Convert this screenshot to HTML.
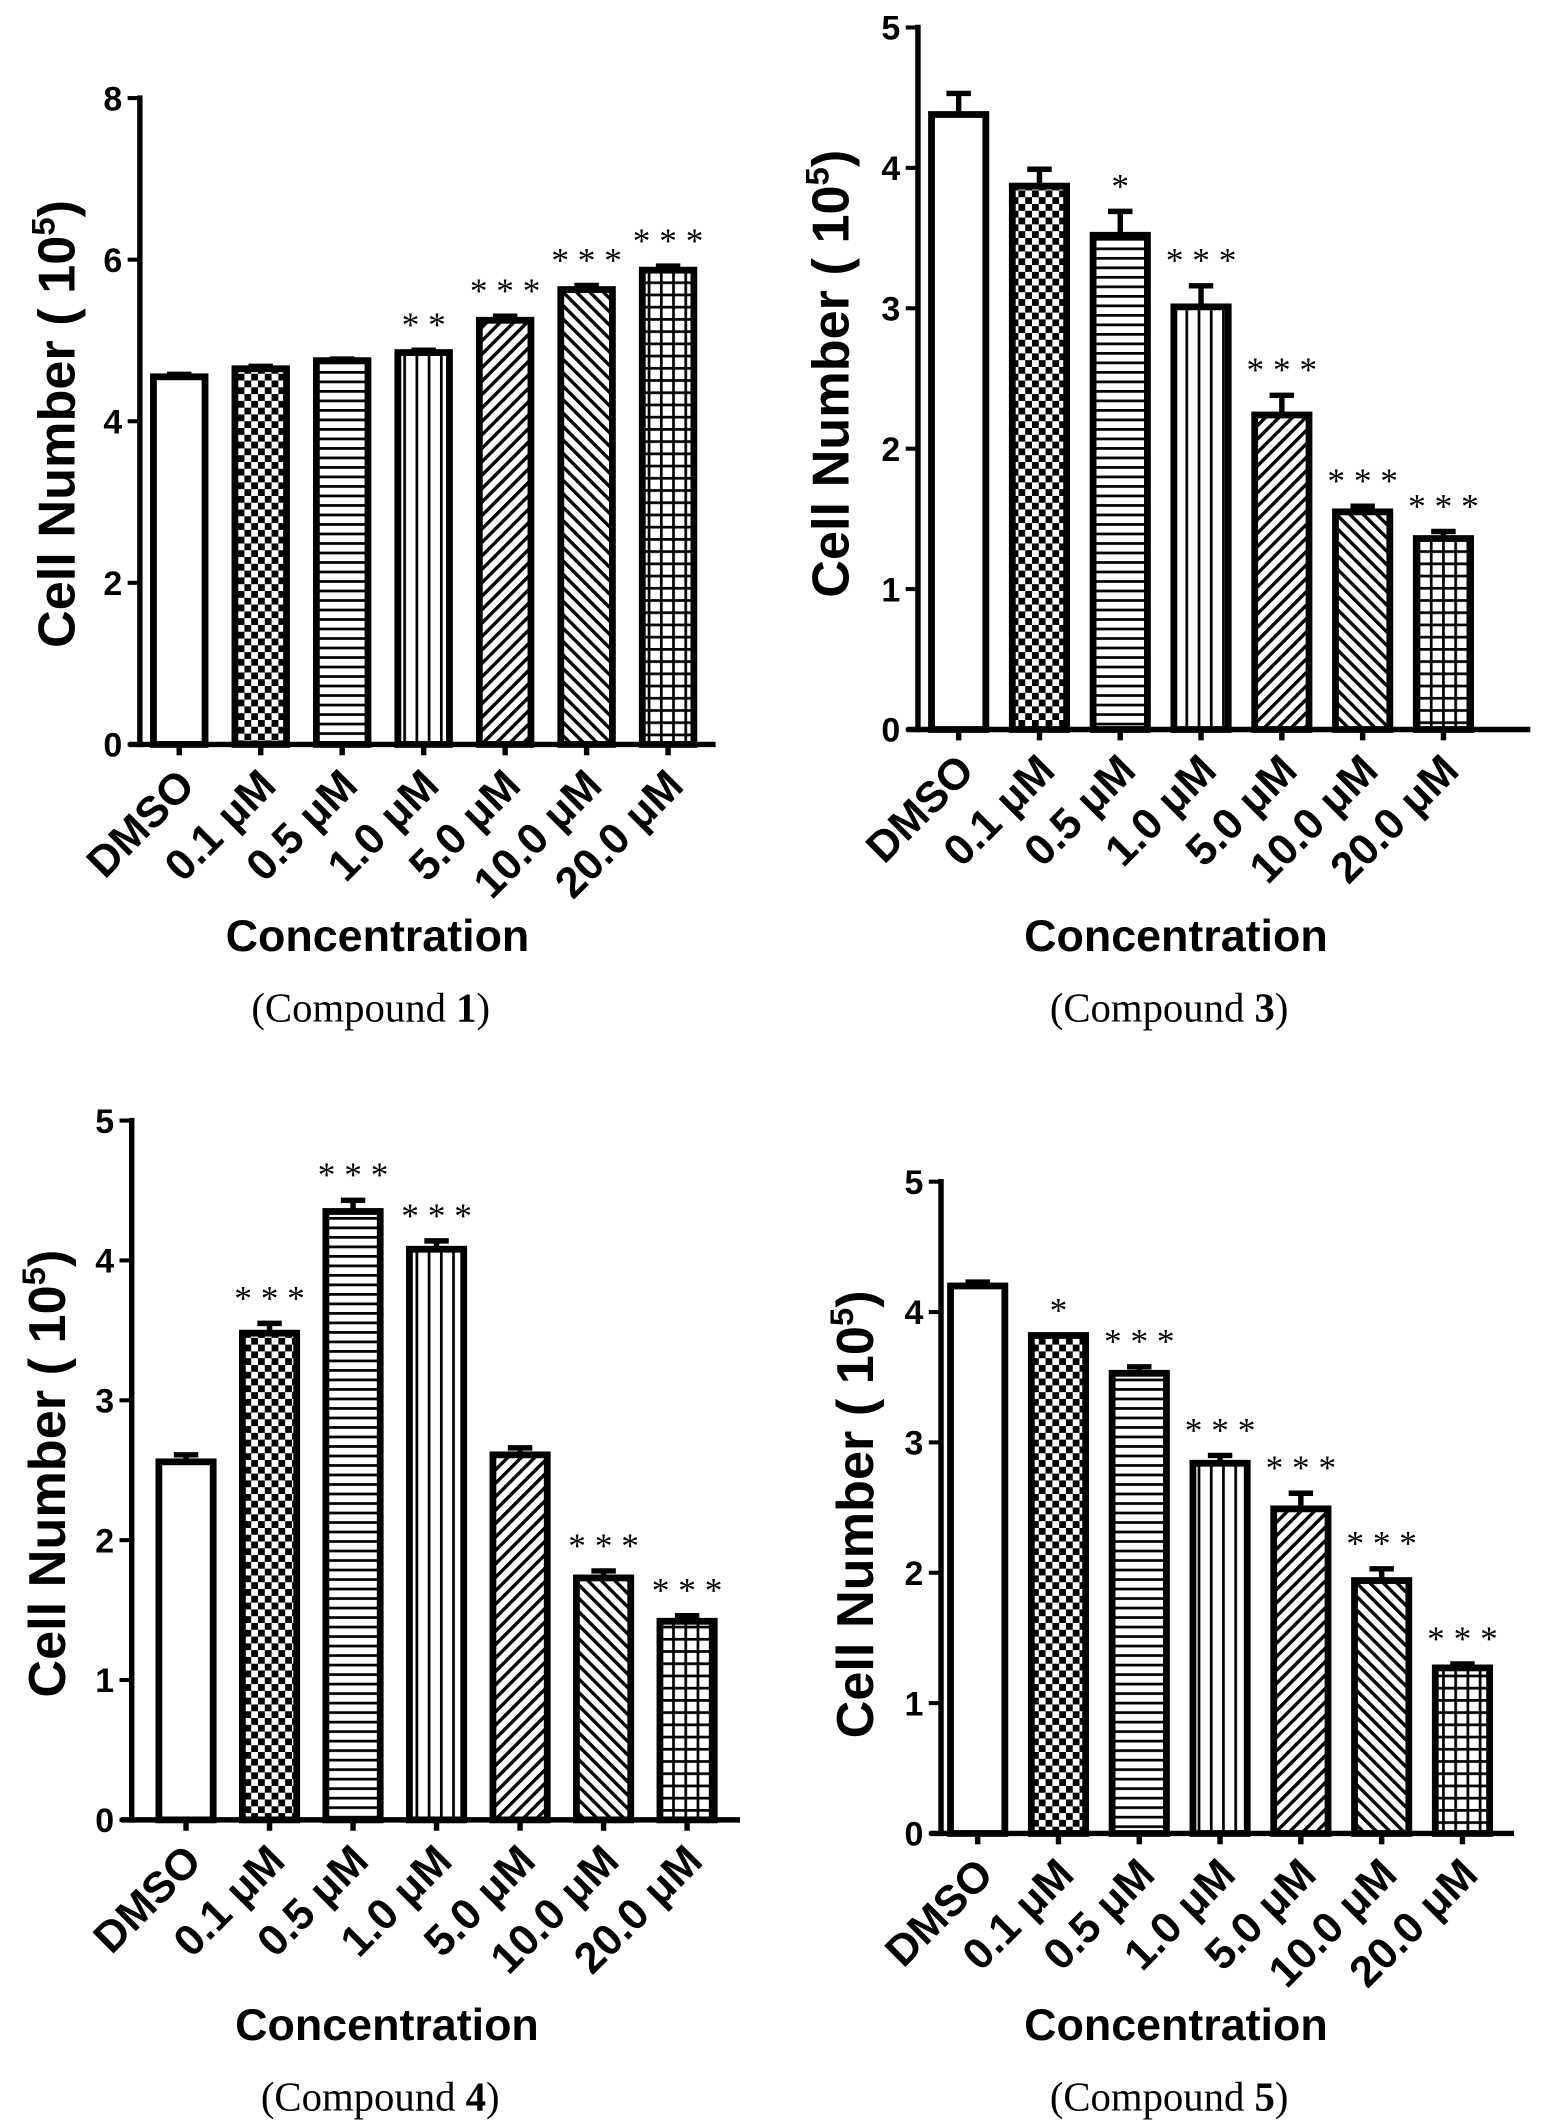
<!DOCTYPE html>
<html><head><meta charset="utf-8"><style>
html,body{margin:0;padding:0;background:#fff}
svg{display:block}
text{font-family:"Liberation Sans",Arial,sans-serif;font-weight:bold;fill:#000}
.serif{font-family:"Liberation Serif",serif;font-weight:normal}
</style></head><body>
<svg id="fig" width="1548" height="2123" viewBox="0 0 1140 1563" xmlns="http://www.w3.org/2000/svg">
<defs>
<pattern id="p1" patternUnits="userSpaceOnUse" width="10" height="10"><rect width="10" height="10" fill="#fff"/><rect width="5" height="5" fill="#000"/><rect x="5" y="5" width="5" height="5" fill="#000"/></pattern>
<pattern id="p2" patternUnits="userSpaceOnUse" width="8" height="7"><rect width="8" height="7" fill="#fff"/><rect y="0" width="8" height="2" fill="#000"/></pattern>
<pattern id="p3" patternUnits="userSpaceOnUse" width="9" height="8"><rect width="9" height="8" fill="#fff"/><rect x="0" width="2" height="8" fill="#000"/></pattern>
<pattern id="p4" patternUnits="userSpaceOnUse" width="7" height="7" patternTransform="rotate(45)"><rect width="7" height="7" fill="#fff"/><rect width="2.5" height="7" fill="#000"/></pattern>
<pattern id="p5" patternUnits="userSpaceOnUse" width="7" height="7" patternTransform="rotate(-45)"><rect width="7" height="7" fill="#fff"/><rect width="2.5" height="7" fill="#000"/></pattern>
<pattern id="p6" patternUnits="userSpaceOnUse" width="9" height="9"><rect width="9" height="9" fill="#fff"/><rect width="9" height="2" fill="#000"/><rect width="2" height="9" fill="#000"/></pattern>
</defs>
</svg>
<script>
const categories = ["DMSO","0.1 μM","0.5 μM","1.0 μM","5.0 μM","10.0 μM","20.0 μM"];
const fills = ["#fff","url(#p1)","url(#p2)","url(#p3)","url(#p4)","url(#p5)","url(#p6)"];

const c1Values = [4.55,4.65,4.75,4.85,5.25,5.63,5.87];
const c1Errors = [0.03,0.03,0.02,0.03,0.05,0.05,0.05];
const c1Stars = ["","","","**","***","***","***"];
const c1Ticks = [0,2,4,6,8];

const c3Values = [4.38,3.87,3.52,3.01,2.24,1.55,1.36];
const c3Errors = [0.15,0.12,0.17,0.15,0.14,0.04,0.05];
const c3Stars = ["","","*","***","***","***","***"];
const c3Ticks = [0,1,2,3,4,5];

const c4Values = [2.56,3.48,4.35,4.08,2.61,1.73,1.42];
const c4Errors = [0.05,0.07,0.08,0.06,0.05,0.05,0.04];
const c4Stars = ["","***","***","***","","***","***"];
const c4Ticks = [0,1,2,3,4,5];

const c5Values = [4.20,3.82,3.53,2.84,2.49,1.94,1.27];
const c5Errors = [0.03,0.0,0.05,0.06,0.12,0.09,0.03];
const c5Stars = ["","*","***","***","***","***","***"];
const c5Ticks = [0,1,2,3,4,5];

const NS="http://www.w3.org/2000/svg";
const svg=document.getElementById('fig');
function mk(tag,attrs,parent){const e=document.createElementNS(NS,tag);for(const k in attrs)e.setAttribute(k,attrs[k]);(parent||svg).appendChild(e);return e;}

function panel(id,compound,values,errors,stars,ticks,L){
  const g=mk('g',{});
  
  
  const maxV=ticks[ticks.length-1];
  const y=v=>L.y0-(v/maxV)*(L.y0-L.yTop);
  const x=i=>L.cx0+i*L.step;
  values.forEach((v,i)=>{
    const cx=x(i),top=y(v),e=errors[i];
    if(e>0){
      const eb=mk('path',{d:`M${cx} ${top} V${y(v+e)} M${cx-9} ${y(v+e)} H${cx+9}`,stroke:'#000','stroke-width':4,fill:'none'},g);
      
      
    }
    const r=mk('rect',{x:cx-L.bw/2,y:top,width:L.bw,height:L.y0-top,fill:fills[i],stroke:'#000','stroke-width':5},g);
    
    
    if(stars[i]){
      const s=mk('text',{x:cx,y:y(v+e)-10,'text-anchor':'middle','font-size':26,class:'serif'},g);
      s.textContent=stars[i].split('').join(' ');
      
      
    }
    const tk=mk('line',{x1:cx,x2:cx,y1:L.y0,y2:L.y0+8,stroke:'#000','stroke-width':4},g);
    
    
    const lb=mk('text',{x:0,y:0,'text-anchor':'end','font-size':32,transform:`translate(${cx+13},${L.y0+32}) rotate(-45)`},g);
    lb.textContent=categories[i];
    
    
  });
  const ya=mk('line',{x1:L.ax,x2:L.ax,y1:L.yTop-2,y2:L.y0+2,stroke:'#000','stroke-width':4},g);
  
  
  const xa=mk('line',{x1:L.ax-8,x2:L.xEnd,y1:L.y0,y2:L.y0,stroke:'#000','stroke-width':4},g);
  
  
  ticks.forEach(t=>{
    const tl=mk('line',{x1:L.ax-9,x2:L.ax,y1:y(t),y2:y(t),stroke:'#000','stroke-width':3},g);
    
    
    const tt=mk('text',{x:L.ax-13,y:y(t)+9,'text-anchor':'end','font-size':25},g);
    tt.textContent=t;
    
    
  });
  const yt=mk('text',{x:0,y:0,'text-anchor':'middle','font-size':38,transform:`translate(${L.ytx},${L.ytc||(L.yTop+L.y0)/2}) rotate(-90)`,textLength:330,lengthAdjust:'spacingAndGlyphs'},g);
  yt.innerHTML='Cell Number ( 10<tspan dy="-15" font-size="24">5</tspan><tspan dy="15">)</tspan>';
  
  
  const xt=mk('text',{x:L.tx,y:L.ty,'text-anchor':'middle','font-size':33},g);
  xt.textContent='Concentration';
  
  
  const ct=mk('text',{x:L.tx-5,y:L.ty+52,'text-anchor':'middle','font-size':30,class:'serif'},g);
  ct.innerHTML='(Compound <tspan font-weight="bold">'+compound+'</tspan>)';
  
  
}
panel('compound-1','1',c1Values,c1Errors,c1Stars,c1Ticks,{ax:103,yTop:72,y0:548,cx0:132,step:60,bw:38,xEnd:527,ytx:55,ytc:312,tx:278,ty:700});
panel('compound-3','3',c3Values,c3Errors,c3Stars,c3Ticks,{ax:676,yTop:20,y0:537,cx0:706,step:59.5,bw:40,xEnd:1127,ytx:625,ytc:275,tx:866,ty:700});
panel('compound-4','4',c4Values,c4Errors,c4Stars,c4Ticks,{ax:97,yTop:825,y0:1340,cx0:137,step:61.5,bw:40,xEnd:545,ytx:48,ytc:1085,tx:285,ty:1502});
panel('compound-5','5',c5Values,c5Errors,c5Stars,c5Ticks,{ax:693,yTop:870,y0:1350,cx0:720,step:59.5,bw:40,xEnd:1115,ytx:643,ytc:1115,tx:866,ty:1502});
</script>
</body></html>
